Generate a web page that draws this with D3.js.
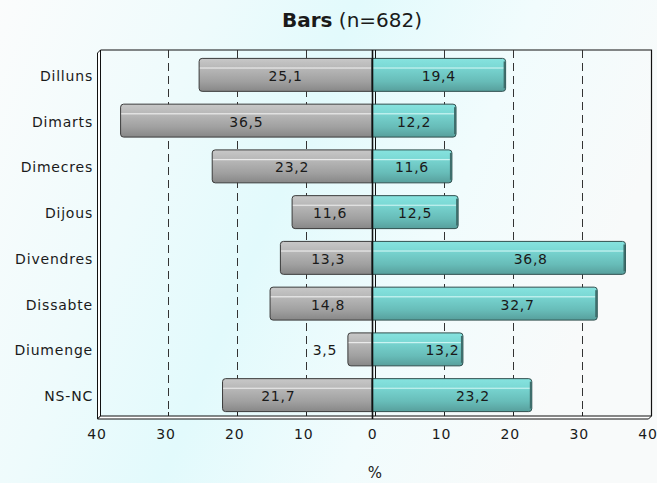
<!DOCTYPE html>
<html>
<head>
<meta charset="utf-8">
<script src="https://cdn.jsdelivr.net/npm/d3@7"></script>
<style>
  html, body { margin: 0; padding: 0; background: #fff; }
  svg { display: block; }
  text { font-family: "DejaVu Sans", Verdana, sans-serif; fill: #1a1a1a; }
</style>
</head>
<body>
<svg id="chart" width="657" height="483"></svg>
<script>
// ---- data ----
const categories = ["Dilluns", "Dimarts", "Dimecres", "Dijous", "Divendres", "Dissabte", "Diumenge", "NS-NC"];
const leftValues = [25.1, 36.5, 23.2, 11.6, 13.3, 14.8, 3.5, 21.7];
const rightValues = [19.4, 12.2, 11.6, 12.5, 36.8, 32.7, 13.2, 23.2];
const tickValues = [-40, -30, -20, -10, 0, 10, 20, 30, 40];
const gridValues = [-30, -20, -10, 10, 20, 30];
const titleBold = "Bars";
const titleRest = " (n=682)";
const axisTitle = "%";

// ---- layout ----
const W = 657, H = 483;
const x0 = 96.5, x1 = 647.5, yTop = 53, yBot = 419;
const depth = 3; // pseudo-3D offset
// label nudges (pixels) as in the original chart
const leftLabelDx = [0, 0, 0, -2, 2, 7, -35, -19];
const rightLabelDx = [0, 0, 0, 0, 32, 33, 25, 21];

const svg = d3.select("#chart");
const defs = svg.append("defs");

// background gradient
const bg = defs.append("linearGradient").attr("id", "bg").attr("x1", 0).attr("y1", 0).attr("x2", 1).attr("y2", 0.3);
[[0, "#fbfcfc"], [0.3, "#eefbfc"], [0.5, "#e2fafc"], [0.75, "#f1fcfd"], [1, "#f8fafa"]]
  .forEach(([o, c]) => bg.append("stop").attr("offset", o).attr("stop-color", c));
svg.append("rect").attr("width", W).attr("height", H).attr("fill", "url(#bg)");

function barGrad(id, stops) {
  const g = defs.append("linearGradient").attr("id", id).attr("x1", 0).attr("y1", 0).attr("x2", 0).attr("y2", 1);
  stops.forEach(([o, c]) => g.append("stop").attr("offset", o).attr("stop-color", c));
}
barGrad("gGray", [[0, "#c8c8c8"], [0.26, "#b9b9b9"], [0.29, "#ececec"], [0.33, "#b6b6b6"], [0.7, "#a0a0a0"], [1, "#878787"]]);
barGrad("gTeal", [[0, "#86e3df"], [0.26, "#7bd9d5"], [0.29, "#cdf5f3"], [0.33, "#76d2ce"], [0.7, "#67bcb8"], [1, "#579f9c"]]);

// scales
const x = d3.scaleLinear().domain([-40, 40]).range([x0, x1]);
const y = d3.scaleBand().domain(categories).range([yTop - 1, yBot - 1]).paddingInner(0.28).paddingOuter(0.14);
const px = v => Math.round(x(v)) + 0.5;

// back wall / left wall / floor frame
const frame = svg.append("g");
frame.append("path")
  .attr("d", `M${px(-40)},${yTop} L${px(-40) + depth},${yTop - depth} L${px(-40) + depth},${yBot - depth} L${px(-40)},${yBot} Z`)
  .attr("fill", "#fff").attr("stroke", "#111").attr("stroke-width", 1);
frame.append("path")
  .attr("d", `M${px(-40)},${yBot} L${px(-40) + depth},${yBot - depth} L${px(40) + depth},${yBot - depth} L${px(40)},${yBot} Z`)
  .attr("fill", "#fff").attr("stroke", "#111").attr("stroke-width", 1);
frame.append("path")
  .attr("d", `M${px(-40) + depth},${yTop - depth} L${px(40) + depth},${yTop - depth} L${px(40) + depth},${yBot - depth}`)
  .attr("fill", "none").attr("stroke", "#111").attr("stroke-width", 1.2);

// dashed gridlines on back wall
svg.append("g").selectAll("line").data(gridValues).join("line")
  .attr("x1", d => px(d) + depth).attr("x2", d => px(d) + depth)
  .attr("y1", yTop - depth).attr("y2", yBot - depth)
  .attr("stroke", "#333").attr("stroke-width", 1).attr("stroke-dasharray", "8,5");
// small ticks at the back wall bottom
svg.append("g").selectAll("line").data(tickValues.slice(1, -1)).join("line")
  .attr("x1", d => px(d) + depth).attr("x2", d => px(d) + depth)
  .attr("y1", yBot - depth - 4).attr("y2", yBot - depth)
  .attr("stroke", "#222").attr("stroke-width", 1);
// back zero line
svg.append("line")
  .attr("x1", px(0) + depth).attr("x2", px(0) + depth)
  .attr("y1", yTop - depth).attr("y2", yBot - depth)
  .attr("stroke", "#111").attr("stroke-width", 1);

// bars
const r = 3;
function leftPath(v, i) {
  const xa = x(-v), xb = x(0), yt = y(categories[i]), h = y.bandwidth(), yb = yt + h;
  return `M${xb},${yt} L${xa + r},${yt} Q${xa},${yt} ${xa},${yt + r} L${xa},${yb - r} Q${xa},${yb} ${xa + r},${yb} L${xb},${yb} Z`;
}
function rightPath(v, i) {
  const xa = x(0), xb = x(v), yt = y(categories[i]), h = y.bandwidth(), yb = yt + h;
  return `M${xa},${yt} L${xb - r},${yt} Q${xb},${yt} ${xb},${yt + r} L${xb},${yb - r} Q${xb},${yb} ${xb - r},${yb} L${xa},${yb} Z`;
}
const bars = svg.append("g");
bars.selectAll("path.l").data(leftValues).join("path").attr("class", "l")
  .attr("d", (d, i) => leftPath(d, i))
  .attr("fill", "url(#gGray)").attr("stroke", "#3a3a3a").attr("stroke-width", 1);
bars.selectAll("path.r").data(rightValues).join("path").attr("class", "r")
  .attr("d", (d, i) => rightPath(d, i))
  .attr("fill", "url(#gTeal)").attr("stroke", "#2f4f4e").attr("stroke-width", 1);
bars.selectAll("line.cap").data(rightValues).join("line").attr("class", "cap")
  .attr("x1", d => x(d) - 1).attr("x2", d => x(d) - 1)
  .attr("y1", (d, i) => y(categories[i]) + 3).attr("y2", (d, i) => y(categories[i]) + y.bandwidth() - 3)
  .attr("stroke", "#3e6e6c").attr("stroke-width", 2);

// front zero line
svg.append("line")
  .attr("x1", px(0)).attr("x2", px(0))
  .attr("y1", yTop - depth).attr("y2", yBot)
  .attr("stroke", "#111").attr("stroke-width", 1.6);

// value labels
const fmt = v => d3.format(".1f")(v).replace(".", ",");
const lab = svg.append("g").style("font-size", "14px").style("letter-spacing", "0.7px");
lab.selectAll("text.l").data(leftValues).join("text").attr("class", "l")
  .attr("x", (d, i) => (x(-d) + x(0)) / 2 + leftLabelDx[i])
  .attr("y", (d, i) => y(categories[i]) + y.bandwidth() / 2 + 6)
  .attr("text-anchor", "middle").text(d => fmt(d));
lab.selectAll("text.r").data(rightValues).join("text").attr("class", "r")
  .attr("x", (d, i) => (x(d) + x(0)) / 2 + rightLabelDx[i])
  .attr("y", (d, i) => y(categories[i]) + y.bandwidth() / 2 + 6)
  .attr("text-anchor", "middle").text(d => fmt(d));

// category labels
svg.append("g").style("font-size", "14px").style("letter-spacing", "0.8px")
  .selectAll("text").data(categories).join("text")
  .attr("x", 93).attr("y", (d, i) => y(d) + y.bandwidth() / 2 + 6)
  .attr("text-anchor", "end").text(d => d);

// bottom axis
const axis = d3.axisBottom(x).tickValues(tickValues).tickSize(0).tickPadding(0).tickFormat(d => Math.abs(d));
const ag = svg.append("g").attr("transform", `translate(0,${yBot})`).call(axis);
ag.select(".domain").remove();
ag.selectAll("text").attr("dy", null).attr("y", 20)
  .style("font-size", "14px").style("letter-spacing", "0.8px")
  .style("font-family", "'DejaVu Sans', Verdana, sans-serif").attr("fill", "#1a1a1a");

// axis title
svg.append("text").attr("x", x(0) + 3).attr("y", 478).attr("text-anchor", "middle")
  .style("font-size", "15px").text(axisTitle);

// title
const t = svg.append("text").attr("x", 352).attr("y", 27).attr("text-anchor", "middle").style("font-size", "20px");
t.append("tspan").style("font-weight", "bold").text(titleBold);
t.append("tspan").text(titleRest);
</script>
</body>
</html>
